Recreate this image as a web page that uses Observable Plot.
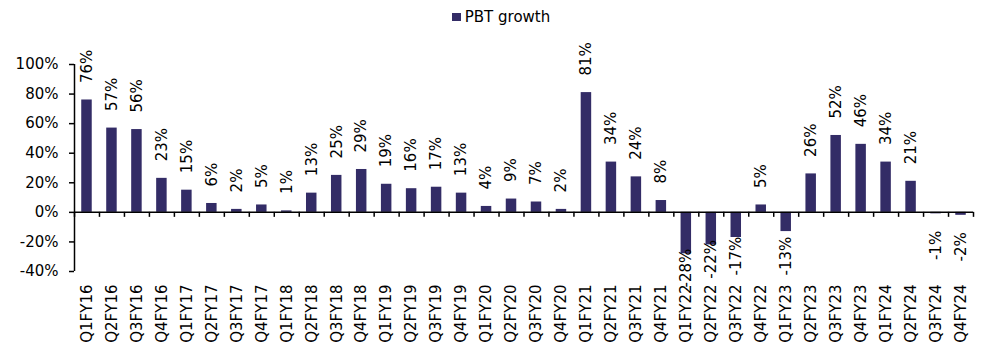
<!DOCTYPE html>
<html>
<head>
<meta charset="utf-8">
<script src="https://cdn.jsdelivr.net/npm/d3@7"></script>
<script src="https://cdn.jsdelivr.net/npm/@observablehq/plot@0.6"></script>
<style>
  html, body { margin: 0; padding: 0; background: #fff; }
  body { width: 982px; height: 347px; overflow: hidden; font-family: "DejaVu Sans", Verdana, sans-serif; }
  #legend { height: 34px; display: flex; justify-content: center; align-items: center; padding-left: 20px; box-sizing: border-box; font-size: 15px; color: #000; }
  #legend .sw { width: 9px; height: 8px; background: #332c66; margin-right: 4px; }
  #chart svg { display: block; }
</style>
</head>
<body>
<div id="legend"><span class="sw"></span><span>PBT growth</span></div>
<div id="chart"></div>
<script>
const categories = ["Q1FY16","Q2FY16","Q3FY16","Q4FY16","Q1FY17","Q2FY17","Q3FY17","Q4FY17","Q1FY18","Q2FY18","Q3FY18","Q4FY18","Q1FY19","Q2FY19","Q3FY19","Q4FY19","Q1FY20","Q2FY20","Q3FY20","Q4FY20","Q1FY21","Q2FY21","Q3FY21","Q4FY21","Q1FY22","Q2FY22","Q3FY22","Q4FY22","Q1FY23","Q2FY23","Q3FY23","Q4FY23","Q1FY24","Q2FY24","Q3FY24","Q4FY24"];
const pbtGrowth = [76,57,56,23,15,6,2,5,1,13,25,29,19,16,17,13,4,9,7,2,81,34,24,8,-28,-22,-17,5,-13,26,52,46,34,21,-1,-2];
const yTicks = [-40,-20,0,20,40,60,80,100];
const seriesName = "PBT growth";

const W = 982, H = 313, mt = 30, mb = 76, ml = 74, mr = 9;
const yMin = -40, yMax = 100;
const pxPer = (H - mt - mb) / (yMax - yMin);
const step = (W - ml - mr) / categories.length;
const fontSize = 15;
const color = "#332c66";

const ctx = document.createElement("canvas").getContext("2d");
ctx.font = `${fontSize}px "DejaVu Sans"`;
const fmt = v => `${v}%`;

const data = categories.map((c, i) => ({cat: c, v: pbtGrowth[i], label: fmt(pbtGrowth[i])}));
const pos = data.filter(d => d.v >= 0).map(d => ({...d, ly: d.v + 17 / pxPer}));
const neg = data.filter(d => d.v < 0).map(d => {
  const len = ctx.measureText(d.label).width;
  const barEnd = (yMax - d.v) * pxPer;
  const bottomLimit = (yMax - yMin) * pxPer + 4;
  const off = Math.max(-5, Math.min(17, bottomLimit - len - barEnd));
  return {...d, ly: d.v - off / pxPer};
});

const plot = Plot.plot({
  width: W, height: H,
  marginTop: mt, marginBottom: mb, marginLeft: ml, marginRight: mr,
  style: {fontFamily: '"DejaVu Sans", Verdana, sans-serif', fontSize: fontSize + "px", color: "#000", background: "#fff"},
  x: {domain: categories, paddingInner: 0.58, paddingOuter: 0.29, axis: null, label: null},
  y: {domain: [yMin, yMax], axis: null, label: null},
  marks: [
    Plot.barY(data, {x: "cat", y: "v", fill: color}),
    Plot.ruleY([0], {stroke: "#000", strokeWidth: 1.5}),
    Plot.ruleX([categories[0]], {y1: yMin, y2: yMax, dx: -step / 2, stroke: "#000", strokeWidth: 1.5}),
    Plot.ruleX(categories, {y1: 0, y2: -5 / pxPer, dx: -step / 2, stroke: "#000", strokeWidth: 1.5}),
    Plot.ruleX([categories[categories.length - 1]], {y1: 0, y2: -5 / pxPer, dx: step / 2, stroke: "#000", strokeWidth: 1.5}),
    Plot.axisY({ticks: yTicks, tickFormat: fmt, tickSize: 5, tickPadding: 11, fontSize: fontSize, stroke: "#000", strokeWidth: 1.5, label: null}),
    Plot.axisX({anchor: "bottom", tickRotate: -90, tickSize: 0, tickPadding: 13, fontSize: fontSize, label: null}),
    Plot.text(pos, {x: "cat", y: "ly", text: "label", rotate: -90, textAnchor: "start", fontSize: fontSize, fill: "#000"}),
    Plot.text(neg, {x: "cat", y: "ly", text: "label", rotate: -90, textAnchor: "end", fontSize: fontSize, fill: "#000"})
  ]
});
document.getElementById("chart").appendChild(plot);
</script>
</body>
</html>
